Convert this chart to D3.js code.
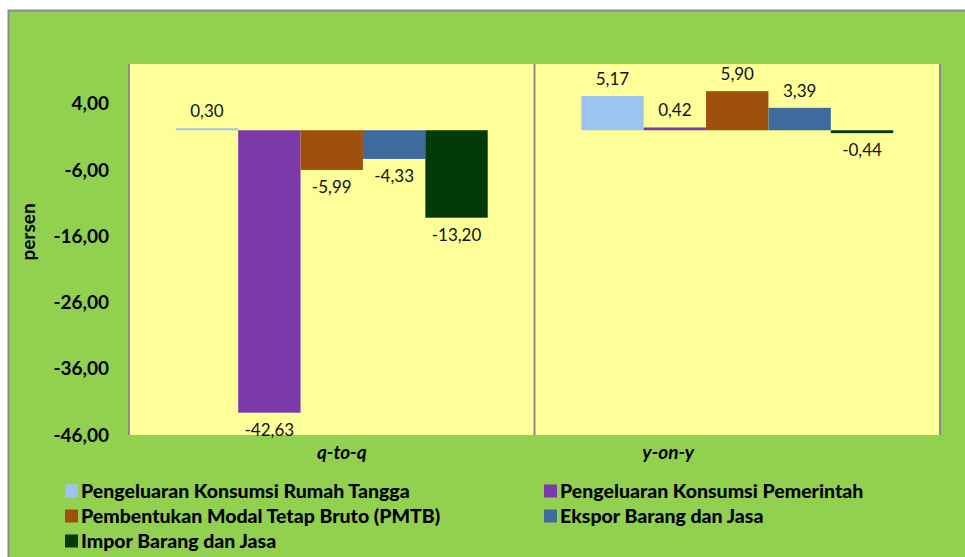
<!DOCTYPE html>
<html>
<head>
<meta charset="utf-8">
<script src="https://cdn.jsdelivr.net/npm/d3@7"></script>
<style>
  body { margin: 0; background: #fff; }
  text { font-family: Lato, "Open Sans", sans-serif; }
</style>
</head>
<body>
<div id="chart"></div>
<script>
// data
var categories = ["q-to-q", "y-on-y"];
var series = [
  "Pengeluaran Konsumsi Rumah Tangga",
  "Pengeluaran Konsumsi Pemerintah",
  "Pembentukan Modal Tetap Bruto (PMTB)",
  "Ekspor Barang dan Jasa",
  "Impor Barang dan Jasa"
];
var qtoq = [0.30, -42.63, -5.99, -4.33, -13.20];
var yony = [5.17, 0.42, 5.90, 3.39, -0.44];
var yTicks = [4, -6, -16, -26, -36, -46];
var colors = ["#9DC3F1", "#7B39A9", "#A0500E", "#3F6A9D", "#033A06"];

var width = 965, height = 557;
var plot = {left: 129, right: 940, top: 64, bottom: 435};

var svg = d3.select("#chart").append("svg")
  .attr("width", width)
  .attr("height", height);

// background + frame
svg.append("rect")
  .attr("x", 8.5).attr("y", 10.5)
  .attr("width", 980).attr("height", 570)
  .attr("fill", "#92D050")
  .attr("stroke", "#8c8c8c")
  .attr("stroke-width", 2);

svg.append("rect")
  .attr("x", plot.left).attr("y", plot.top)
  .attr("width", plot.right - plot.left)
  .attr("height", plot.bottom - plot.top)
  .attr("fill", "#FFFF99");

// scales
var x0 = d3.scaleBand().domain(categories)
  .range([plot.left, plot.right])
  .paddingInner(0).paddingOuter(0);
var x1 = d3.scaleBand().domain(series)
  .range([0, x0.bandwidth()])
  .paddingInner(0).paddingOuter(0.75);
var y = d3.scaleLinear().domain([-46, 10]).range([plot.bottom, plot.top]);

// comma decimal, plain hyphen minus
var locale = d3.formatLocale({decimal: ",", thousands: ".", grouping: [3], currency: ["", ""], minus: "-"});
var fmt = locale.format(".2f");

// vertical gridlines at category boundaries
var bounds = categories.map(function(c){ return x0(c); }).concat([plot.right]);
svg.selectAll(".vgrid").data(bounds).enter().append("line")
  .attr("class", "vgrid")
  .attr("x1", function(d){ return d; }).attr("x2", function(d){ return d; })
  .attr("y1", plot.top).attr("y2", plot.bottom)
  .attr("stroke", "#8c8c8c").attr("stroke-width", 2);

// y axis
var yAxis = d3.axisLeft(y).tickValues(yTicks).tickSize(0).tickFormat(fmt);
var ya = svg.append("g")
  .attr("transform", "translate(" + (plot.left - 20) + ",0)")
  .call(yAxis);
ya.select(".domain").remove();
ya.selectAll("text")
  .attr("x", 0)
  .style("font-family", "Lato, sans-serif")
  .style("font-size", "19px")
  .style("font-weight", "bold")
  .attr("fill", "#000");

svg.append("text")
  .attr("transform", "translate(35,232) rotate(-90)")
  .attr("text-anchor", "middle")
  .style("font-size", "19px")
  .style("font-weight", "bold")
  .text("persen");

// bars
var data = [qtoq, yony];
var groups = svg.selectAll(".grp").data(categories).enter().append("g")
  .attr("class", "grp")
  .attr("transform", function(c){ return "translate(" + x0(c) + ",0)"; });

groups.each(function(c, ci){
  var g = d3.select(this);
  var vals = data[ci].map(function(v, i){ return {s: series[i], v: v, i: i}; });
  g.selectAll("rect").data(vals).enter().append("rect")
    .attr("x", function(d){ return x1(d.s); })
    .attr("width", x1.bandwidth())
    .attr("y", function(d){ return y(Math.max(0, d.v)); })
    .attr("height", function(d){ return Math.max(2, Math.abs(y(d.v) - y(0))); })
    .attr("fill", function(d){ return colors[d.i]; });
  g.selectAll("text.lbl").data(vals).enter().append("text")
    .attr("class", "lbl")
    .attr("x", function(d){ return x1(d.s) + x1.bandwidth() / 2; })
    .attr("y", function(d){ return d.v >= 0 ? y(d.v) - 11 : y(d.v) + 23; })
    .attr("text-anchor", "middle")
    .style("font-size", "17px")
    .attr("fill", "#111")
    .text(function(d){ return fmt(d.v); });
});

// category labels
var catOffset = [10, -69];
svg.selectAll(".cat").data(categories).enter().append("text")
  .attr("class", "cat")
  .attr("x", function(c, i){ return x0(c) + x0.bandwidth() / 2 + catOffset[i]; })
  .attr("y", 459)
  .attr("text-anchor", "middle")
  .style("font-size", "19px")
  .style("font-weight", "bold")
  .style("font-style", "italic")
  .text(function(c){ return c; });

// legend
var legX = [65, 544], legY = [491, 516, 541];
var leg = svg.selectAll(".leg").data(series).enter().append("g")
  .attr("class", "leg")
  .attr("transform", function(d, i){
    return "translate(" + legX[i % 2] + "," + legY[Math.floor(i / 2)] + ")";
  });
leg.append("rect")
  .attr("x", 0).attr("y", -6.5)
  .attr("width", 13).attr("height", 13)
  .attr("fill", function(d, i){ return colors[i]; });
leg.append("text")
  .attr("x", 16).attr("y", 7)
  .style("font-size", "19.5px")
  .style("font-weight", "900")
  .text(function(d){ return d; });
</script>
</body>
</html>
